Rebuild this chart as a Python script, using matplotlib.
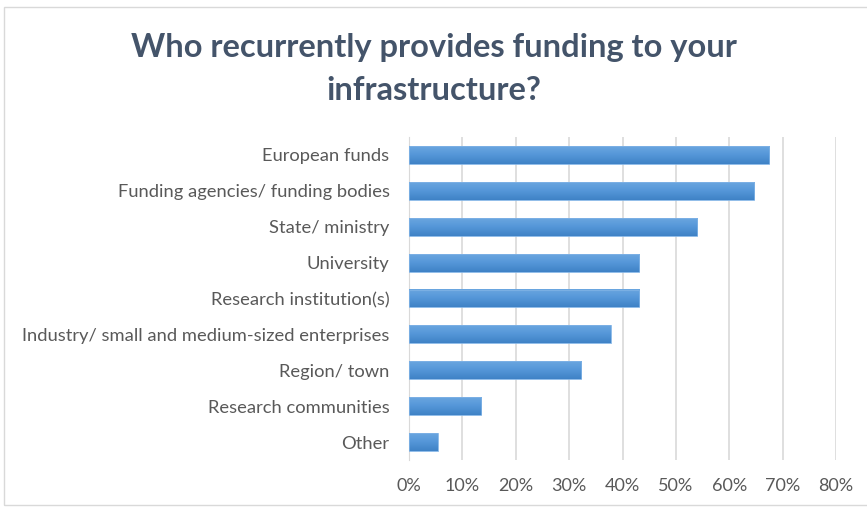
import numpy as np
import matplotlib
matplotlib.use("Agg")
import matplotlib.pyplot as plt
from matplotlib.colors import LinearSegmentedColormap
from matplotlib.ticker import PercentFormatter
from matplotlib.patches import Rectangle

# survey answers (share of respondents, %)
categories = ["European funds", "Funding agencies/ funding bodies", "State/ ministry",
              "University", "Research institution(s)",
              "Industry/ small and medium-sized enterprises", "Region/ town",
              "Research communities", "Other"]
shares = [67.5, 64.7, 54.0, 43.1, 43.1, 37.8, 32.3, 13.5, 5.4]
xticks = [0, 10, 20, 30, 40, 50, 60, 70, 80]

plt.rcParams['font.family'] = ['Lato', 'DejaVu Sans']

fig = plt.figure(figsize=(8.67, 5.08), dpi=100)
# outer chart frame
fig.patches.append(Rectangle((0.005, 0.006), 1.2, 0.98, transform=fig.transFigure,
                             fill=False, edgecolor="#d9d9d9", linewidth=1.0))

ax = fig.add_axes([409 / 867, 1 - 460 / 508, (836 - 409) / 867, (460 - 137) / 508])

y = np.arange(len(categories))
bars = ax.barh(y, shares, height=0.5, color="none", edgecolor="none", zorder=3)

# vertical gradient fill, light on top, darker underneath
cmap = LinearSegmentedColormap.from_list("bar", ["#6aa6e0", "#5496d8", "#3f82c6"])
grad = np.linspace(0, 1, 64).reshape(-1, 1)
for b in bars:
    x0, y0 = b.get_x(), b.get_y()
    w, h = b.get_width(), b.get_height()
    ax.imshow(grad, cmap=cmap, aspect="auto", extent=(x0, x0 + w, y0 + h, y0),
              origin="upper", zorder=3)
    ax.add_patch(Rectangle((x0, y0), w, h, fill=False, edgecolor="#7fb2e5",
                           linewidth=0.6, zorder=4))

ax.set_ylim(len(categories) - 0.5, -0.5)
ax.set_xlim(0, 80)
ax.set_yticks(y)
ax.set_yticklabels(categories, fontsize=13.2, color="#595959")
ax.set_xticks(xticks)
ax.xaxis.set_major_formatter(PercentFormatter(decimals=0))
ax.tick_params(axis="x", labelsize=13, labelcolor="#595959", length=0, pad=13)
ax.tick_params(axis="y", length=0, pad=14)
ax.grid(axis="x", color="#d9d9d9", linewidth=1.2, zorder=0)
ax.set_axisbelow(True)
for s in ["top", "right", "bottom"]:
    ax.spines[s].set_visible(False)
ax.spines["left"].set_color("#d9d9d9")

fig.text(0.5, 1 - 48 / 508, "Who recurrently provides funding to your", ha="center",
         va="center", fontsize=23.5, fontweight="bold", color="#44546a")
fig.text(0.5, 1 - 91 / 508, "infrastructure?", ha="center", va="center",
         fontsize=23.5, fontweight="bold", color="#44546a")

fig.savefig("out.png", dpi=100)
